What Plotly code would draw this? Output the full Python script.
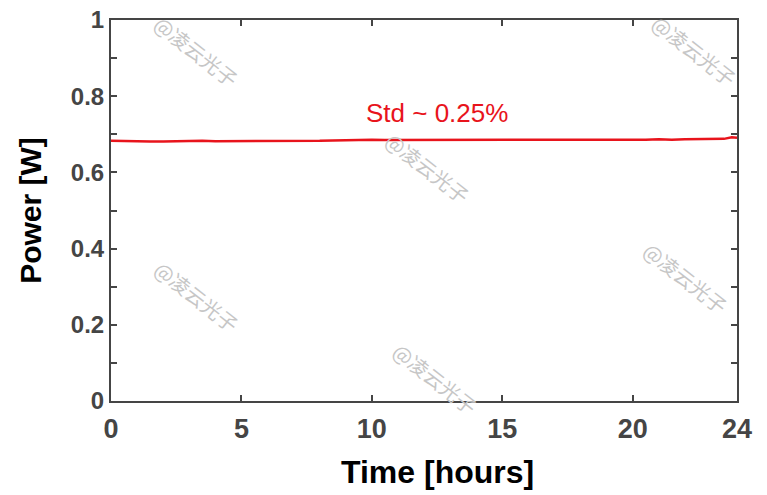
import plotly.graph_objects as go

time_h = [0, 0.5, 1, 1.5, 2, 2.5, 3, 3.5, 4, 4.5, 5, 5.5, 6, 6.5, 7, 7.5, 8, 8.5,
          9, 9.5, 10, 10.5, 11, 11.5, 12, 12.5, 13, 13.5, 14, 14.5, 15, 15.5, 16,
          16.5, 17, 17.5, 18, 18.5, 19, 19.5, 20, 20.5, 21, 21.5, 22, 22.5, 23,
          23.5, 23.8, 24]
power_w = [0.683, 0.682, 0.682, 0.681, 0.681, 0.682, 0.682, 0.683, 0.682, 0.682,
           0.682, 0.682, 0.682, 0.683, 0.683, 0.683, 0.683, 0.684, 0.685, 0.685,
           0.686, 0.685, 0.685, 0.686, 0.686, 0.686, 0.685, 0.685, 0.685, 0.686,
           0.685, 0.685, 0.685, 0.686, 0.685, 0.685, 0.685, 0.685, 0.686, 0.686,
           0.686, 0.686, 0.687, 0.686, 0.687, 0.687, 0.687, 0.688, 0.692, 0.691]

x_ticks = [0, 5, 10, 15, 20, 24]
y_tickvals = [0, 0.1, 0.2, 0.3, 0.4, 0.5, 0.6, 0.7, 0.8, 0.9, 1.0]
y_ticktext = ["0", "", "0.2", "", "0.4", "", "0.6", "", "0.8", "", "1"]

x_title = "Time [hours]"
y_title = "Power [W]"
annotation_text = "Std ~ 0.25%"
watermark = "@凌云光子"
# watermark centres as fractions of the plot area (x from left, y from bottom)
watermark_frac = [(0.137, 0.918), (0.932, 0.921), (0.505, 0.612),
                  (0.137, 0.273), (0.917, 0.323), (0.518, 0.060)]

axis_col = "#454545"
# page has an 8px body margin
W, H = 759, 487
L, R, T, B = 103, 30, 12, 94

fig = go.Figure()
fig.add_trace(go.Scatter(x=time_h, y=power_w, mode="lines",
                         line=dict(color="#e8141c", width=2.5), showlegend=False))

fig.add_annotation(x=12.5, y=0.757, xref="x", yref="y", text=annotation_text,
                   showarrow=False, xanchor="center", yanchor="middle",
                   font=dict(family="Liberation Sans, Arial, sans-serif", size=26, color="#e8141c"))

for (fx, fy) in watermark_frac:
    fig.add_annotation(x=fx, y=fy, xref="paper", yref="paper",
                       xanchor="center", yanchor="middle",
                       text=watermark, showarrow=False, textangle=38,
                       font=dict(family="Noto Sans CJK SC", size=20, color="#c6c6c6"))

fig.add_annotation(x=0.522, y=-0.186, xref="paper", yref="paper", text=x_title,
                   showarrow=False, xanchor="center", yanchor="middle",
                   font=dict(family="Liberation Sans, Arial, sans-serif",
                             size=32, color="black", weight="bold"))

fig.update_layout(
    width=W, height=H,
    margin=dict(l=L, r=R, t=T, b=B, autoexpand=False),
    plot_bgcolor="white", paper_bgcolor="white",
    xaxis=dict(range=[0, 24], tickvals=x_ticks, ticks="inside", ticklen=6, tickwidth=2,
               tickcolor=axis_col, showline=True, linecolor=axis_col, linewidth=2,
               mirror="ticks", showgrid=False, zeroline=False, automargin=False,
               ticklabelstandoff=3, ticklabeloverflow="allow",
               tickfont=dict(family="Liberation Sans, Arial, sans-serif",
                             size=27, color=axis_col, weight="bold")),
    yaxis=dict(range=[0, 1], tickvals=y_tickvals, ticktext=y_ticktext, ticks="inside",
               ticklen=6, tickwidth=2, tickcolor=axis_col, showline=True,
               linecolor=axis_col, linewidth=2, mirror="ticks", showgrid=False,
               zeroline=False, automargin=False, ticklabeloverflow="allow",
               tickfont=dict(family="Liberation Sans, Arial, sans-serif", size=24,
                             color=axis_col, weight="bold"),
               title=dict(text=y_title, standoff=20,
                          font=dict(family="Liberation Sans, Arial, sans-serif",
                                    size=30, color="black", weight="bold"))),
)

fig.write_html("out.html")
